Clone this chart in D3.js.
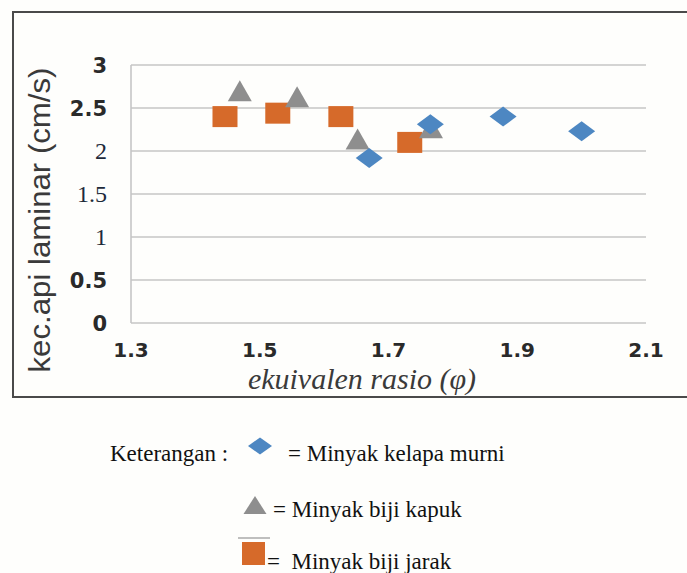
<!DOCTYPE html>
<meta charset="utf-8">
<script src="https://d3js.org/d3.v7.min.js"></script>
<style>
  body { margin: 0; background: #fff; }
</style>
<div id="chart"></div>
<script>
// data
var kelapaX = [1.67, 1.765, 1.878, 2.0];
var kelapaY = [1.92, 2.31, 2.40, 2.23];
var kapukX = [1.469, 1.558, 1.652, 1.766];
var kapukY = [2.70, 2.63, 2.14, 2.27];
var jarakX = [1.446, 1.528, 1.626, 1.733];
var jarakY = [2.40, 2.44, 2.40, 2.10];
var xTicks = [1.3, 1.5, 1.7, 1.9, 2.1];
var yTicks = [0, 0.5, 1, 1.5, 2, 2.5, 3];
var yTickLabels = ["0", "0.5", "1", "1.5", "2", "2.5", "3"];
var serifTicks = ["2", "1.5", "1"];

var W = 687, H = 573;
var svg = d3.select("#chart").append("svg")
    .attr("width", W).attr("height", H);

svg.append("rect").attr("width", W).attr("height", H).attr("fill", "#fefefc");

// frame round the chart
svg.append("rect")
    .attr("x", 13).attr("y", 12)
    .attr("width", 700).attr("height", 385)
    .attr("fill", "none").attr("stroke", "#4a4a4a").attr("stroke-width", 2);

var x = d3.scaleLinear().domain([1.3, 2.1]).range([131, 646]);
var y = d3.scaleLinear().domain([0, 3]).range([323, 65]);

// gridlines
svg.append("g").selectAll("line")
  .data(yTicks)
  .join("line")
    .attr("x1", 131).attr("x2", 646)
    .attr("y1", d => y(d)).attr("y2", d => y(d))
    .attr("stroke", "#c6c6c6").attr("stroke-width", 1.6);

svg.append("line")
    .attr("x1", 131).attr("x2", 131)
    .attr("y1", y(3)).attr("y2", y(0))
    .attr("stroke", "#c6c6c6").attr("stroke-width", 1.6);

// y tick labels (some are in a serif face in the original)
function isSerif(i) { return serifTicks.indexOf(yTickLabels[i]) >= 0; }
svg.append("g").selectAll("text")
  .data(yTicks)
  .join("text")
    .attr("x", 107)
    .attr("y", d => y(d) + 8)
    .attr("text-anchor", "end")
    .style("font-family", (d, i) => isSerif(i) ? "'Times New Roman', 'Liberation Serif', serif" : "'DejaVu Sans', sans-serif")
    .style("font-weight", (d, i) => isSerif(i) ? "normal" : "bold")
    .style("font-size", (d, i) => isSerif(i) ? "24px" : "21px")
    .attr("fill", (d, i) => isSerif(i) ? "#1d2a3a" : "#2a2a2a")
    .text((d, i) => yTickLabels[i]);

// x tick labels
svg.append("g").selectAll("text")
  .data(xTicks)
  .join("text")
    .attr("x", d => x(d))
    .attr("y", 357)
    .attr("text-anchor", "middle")
    .style("font-family", "'DejaVu Sans', sans-serif")
    .style("font-weight", "bold")
    .style("font-size", "20px")
    .attr("fill", "#2a2a2a")
    .text(d => d3.format(".1f")(d));

// axis titles
svg.append("text")
    .attr("x", 362).attr("y", 389)
    .attr("text-anchor", "middle")
    .style("font-family", "'Liberation Serif', serif")
    .style("font-style", "italic")
    .style("font-size", "30px")
    .attr("fill", "#3a3a3a")
    .text("ekuivalen rasio (\u03c6)");

svg.append("text")
    .attr("transform", "translate(50,220) rotate(-90)")
    .attr("text-anchor", "middle")
    .style("font-family", "'Liberation Sans', sans-serif")
    .style("font-size", "29px")
    .attr("textLength", 305)
    .attr("lengthAdjust", "spacingAndGlyphs")
    .attr("fill", "#3a3a3a")
    .text("kec.api laminar (cm/s)");

// marker shapes
var blue = "#4d87c2", orange = "#d66a2a", grey = "#8e8e8e";
function diamond(w, h) { return "M0," + (-h/2) + "L" + (w/2) + ",0L0," + (h/2) + "L" + (-w/2) + ",0Z"; }
function triangle(w, h) { return "M0," + (-h/2) + "L" + (w/2) + "," + (h/2) + "L" + (-w/2) + "," + (h/2) + "Z"; }

var jarak = jarakX.map((v, i) => ({x: v, y: jarakY[i]}));
var kapuk = kapukX.map((v, i) => ({x: v, y: kapukY[i]}));
var kelapa = kelapaX.map((v, i) => ({x: v, y: kelapaY[i]}));

svg.append("g").selectAll("rect")
  .data(jarak)
  .join("rect")
    .attr("x", d => x(d.x) - 12.5).attr("y", d => y(d.y) - 10.5)
    .attr("width", 25).attr("height", 21)
    .attr("fill", orange);

svg.append("g").selectAll("path")
  .data(kapuk)
  .join("path")
    .attr("transform", d => "translate(" + x(d.x) + "," + y(d.y) + ")")
    .attr("d", triangle(24, 21))
    .attr("fill", grey);

svg.append("g").selectAll("path")
  .data(kelapa)
  .join("path")
    .attr("transform", d => "translate(" + x(d.x) + "," + y(d.y) + ")")
    .attr("d", diamond(27, 20))
    .attr("fill", blue);

// legend below the frame
var leg = svg.append("g")
    .style("font-family", "'Liberation Serif', serif")
    .style("font-size", "23px")
    .attr("fill", "#111");

leg.append("text").attr("x", 110).attr("y", 461).text("Keterangan :");
leg.append("path").attr("transform", "translate(260,446)").attr("d", diamond(24, 17)).attr("fill", blue);
leg.append("text").attr("x", 288).attr("y", 461).text("= Minyak kelapa murni");

leg.append("path").attr("transform", "translate(255,505)").attr("d", triangle(23, 18)).attr("fill", grey);
leg.append("text").attr("x", 273).attr("y", 517).text("= Minyak biji kapuk");

leg.append("line").attr("x1", 238).attr("x2", 270).attr("y1", 538).attr("y2", 538)
    .attr("stroke", "#aaa").attr("stroke-width", 1.5);
leg.append("rect").attr("x", 242).attr("y", 542).attr("width", 23).attr("height", 23).attr("fill", orange);
leg.append("text").attr("x", 267).attr("y", 569).attr("xml:space", "preserve").text("=  Minyak biji jarak");
</script>
